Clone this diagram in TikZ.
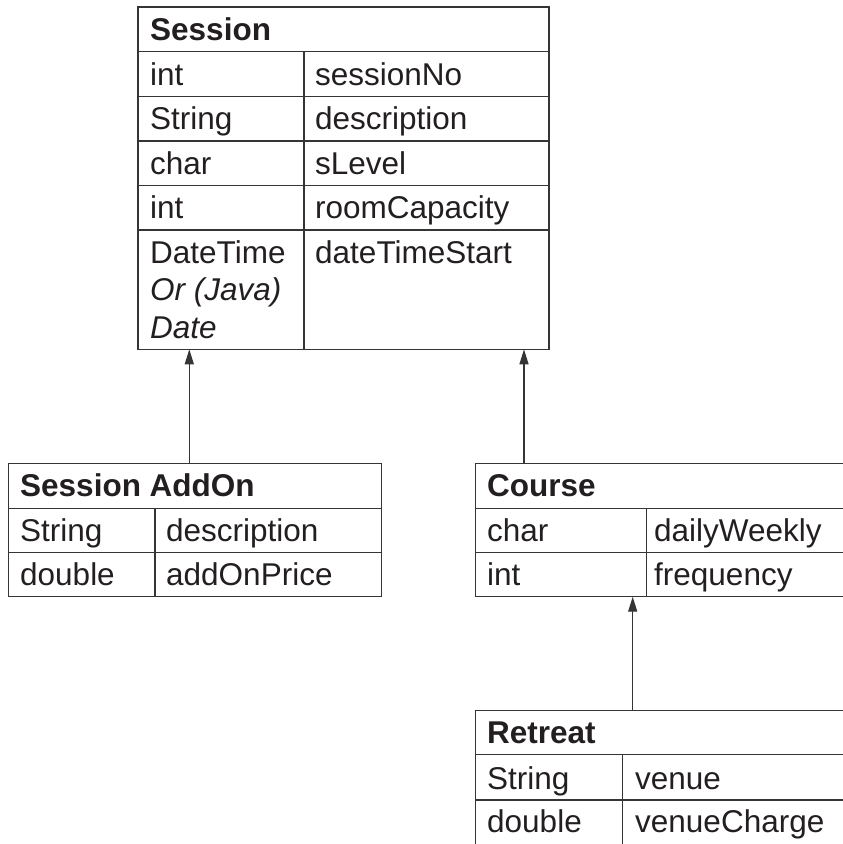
\documentclass[tikz,border=0pt]{standalone}
\usepackage{fontspec}
\setmainfont{Liberation Sans}
\usetikzlibrary{arrows.meta}
\definecolor{linec}{RGB}{55,52,53}
\definecolor{txtc}{RGB}{35,31,32}
\begin{document}
\begin{tikzpicture}[x=1pt,y=-1pt,
  tbl/.style={draw=linec, line width=1.4pt, inner sep=0pt, outer sep=0pt, anchor=north west},
  gridln/.style={draw=linec, line width=1.4pt},
  txt/.style={anchor=base west, inner sep=0pt, text=txtc, font=\fontsize{31.5}{37.5}\selectfont},
  hd/.style={txt, font=\fontsize{31.5}{37.5}\selectfont\bfseries},
  it/.style={txt, font=\fontsize{31.5}{37.5}\selectfont\itshape},
  arr/.style={draw=linec, line width=1.3pt, -{Triangle[length=15pt,width=9pt]}}]
\useasboundingbox (0,0) rectangle (843,844);
\clip (0,0) rectangle (843,844);

% ---------- Session ----------
\node[tbl, minimum width=411pt, minimum height=342.3pt] (session) at (138,7) {};
\draw[gridln] (138,51.7) -- (549,51.7);
\draw[gridln] (138,96.3) -- (549,96.3);
\draw[gridln] (138,141) -- (549,141);
\draw[gridln] (138,185.7) -- (549,185.7);
\draw[gridln] (138,230) -- (549,230);
\draw[gridln] (304,51.7) -- (304,349.3);
\node[hd] (sT) at (150,40.7) {Session};
\node[txt] (s1a) at (150,85) {int};
\node[txt] (s1b) at (315,85) {sessionNo};
\node[txt] (s2a) at (150,129.6) {String};
\node[txt] (s2b) at (315,129.6) {description};
\node[txt] (s3a) at (150,174.3) {char};
\node[txt] (s3b) at (315,174.3) {sLevel};
\node[txt] (s4a) at (150,218.7) {int};
\node[txt] (s4b) at (315,218.7) {roomCapacity};
\node[txt] (s5a) at (150,263) {DateTime};
\node[it] (s5c) at (150,300.5) {Or (Java)};
\node[it] (s5d) at (150,338) {Date};
\node[txt] (s5b) at (315,263) {dateTimeStart};

% ---------- Session AddOn ----------
\node[tbl, minimum width=373.4pt, minimum height=133.4pt] (addon) at (8.3,463.3) {};
\draw[gridln] (8.3,508.3) -- (381.7,508.3);
\draw[gridln] (8.3,552.7) -- (381.7,552.7);
\draw[gridln] (155,508.3) -- (155,596.7);
\node[hd] (aT) at (20,496.5) {Session AddOn};
\node[txt] (a1a) at (20,541.3) {String};
\node[txt] (a1b) at (166,541.3) {description};
\node[txt] (a2a) at (20,585.5) {double};
\node[txt] (a2b) at (166,585.5) {addOnPrice};

% ---------- Course ----------
\node[tbl, minimum width=400pt, minimum height=133.4pt] (course) at (475.7,463.3) {};
\draw[gridln] (475.7,508.3) -- (880,508.3);
\draw[gridln] (475.7,552.7) -- (880,552.7);
\draw[gridln] (646.7,508.3) -- (646.7,596.7);
\node[hd] (cT) at (487,496.5) {Course};
\node[txt] (c1a) at (487,541.3) {char};
\node[txt] (c1b) at (654,541.3) {dailyWeekly};
\node[txt] (c2a) at (487,585.5) {int};
\node[txt] (c2b) at (654,585.5) {frequency};

% ---------- Retreat ----------
\node[tbl, minimum width=400pt, minimum height=145pt] (retreat) at (475.7,710.7) {};
\draw[gridln] (475.7,754.3) -- (880,754.3);
\draw[gridln] (475.7,800) -- (880,800);
\draw[gridln] (622.3,754.3) -- (622.3,860);
\node[hd] (rT) at (487,743.4) {Retreat};
\node[txt] (r1a) at (487,789) {String};
\node[txt] (r1b) at (635,789) {venue};
\node[txt] (r2a) at (487,832) {double};
\node[txt] (r2b) at (635,832) {venueCharge};

% ---------- Generalisation arrows ----------
\draw[arr] ([xshift=181pt]addon.north west) -- ([xshift=51.3pt]session.south west);
\draw[arr] ([xshift=48.3pt]course.north west) -- ([xshift=386pt]session.south west);
\draw[arr] ([xshift=157pt]retreat.north west) -- ([xshift=157pt]course.south west);
\end{tikzpicture}
\end{document}
